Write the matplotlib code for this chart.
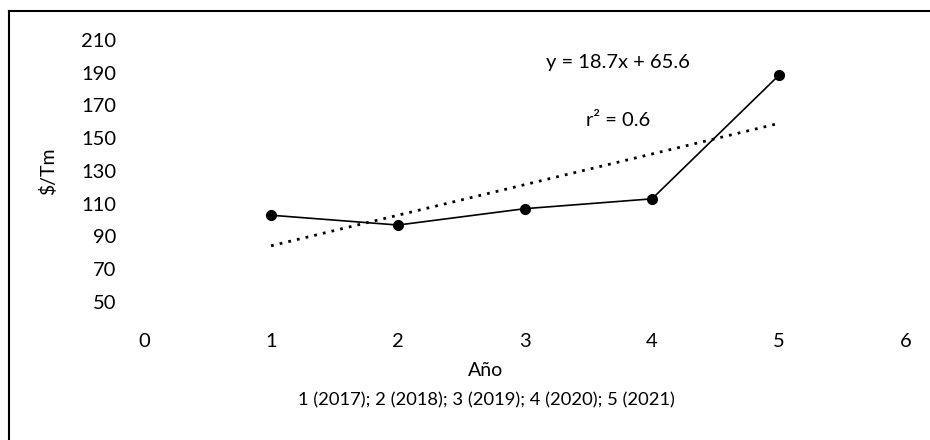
import matplotlib
matplotlib.use("Agg")
import matplotlib.pyplot as plt
import numpy as np
from matplotlib.lines import Line2D

# data
years = [1, 2, 3, 4, 5]
price = [103, 97, 107, 113, 188.5]
xticks = [0, 1, 2, 3, 4, 5, 6]
yticks = [50, 70, 90, 110, 130, 150, 170, 190, 210]
eq_text = "y = 18.7x + 65.6"
r2_text = "r² = 0.6"

plt.rcParams['font.family'] = ['Lato', 'DejaVu Sans']

fig = plt.figure(figsize=(9.3, 4.4), dpi=100)
ax = fig.add_axes([144/930, 138/440, 762/930, 262/440])

ax.plot(years, price, color='black', lw=1.2, marker='o', markersize=7, zorder=3)

# linear trendline
slope, intercept = np.polyfit(years, price, 1)
xs = np.array([years[0], years[-1]])
ax.plot(xs, slope*xs + intercept, color='black', lw=2, linestyle=(0, (1, 2.2)), zorder=2)

ax.text(3.73, 196.5, eq_text, ha='center', va='center', fontsize=14.5)
ax.text(3.73, 161, r2_text, ha='center', va='center', fontsize=14.5)

ax.set_xlim(0, 6)
ax.set_ylim(50, 210)
ax.set_xticks(xticks)
ax.set_yticks(yticks)
ax.tick_params(length=0, labelsize=14.5)
ax.tick_params(axis='x', pad=22)
ax.tick_params(axis='y', pad=20)
for s in ax.spines.values():
    s.set_visible(False)

ax.set_ylabel("$/Tm", fontsize=14)
ax.yaxis.set_label_coords(-0.114, 0.5)

fig.text(486/930, 1-370/440, "Año", ha='center', va='center', fontsize=14)
fig.text(486/930, 1-400/440, "1 (2017); 2 (2018); 3 (2019); 4 (2020); 5 (2021)",
         ha='center', va='center', fontsize=13.2)

# frame around the chart (only top and left visible)
fig.add_artist(Line2D([9/930, 1], [1-11.5/440, 1-11.5/440], color='black', lw=1.5, transform=fig.transFigure))
fig.add_artist(Line2D([9/930, 9/930], [0, 1-11.5/440], color='black', lw=1.5, transform=fig.transFigure))

fig.savefig("out.png", dpi=100)
